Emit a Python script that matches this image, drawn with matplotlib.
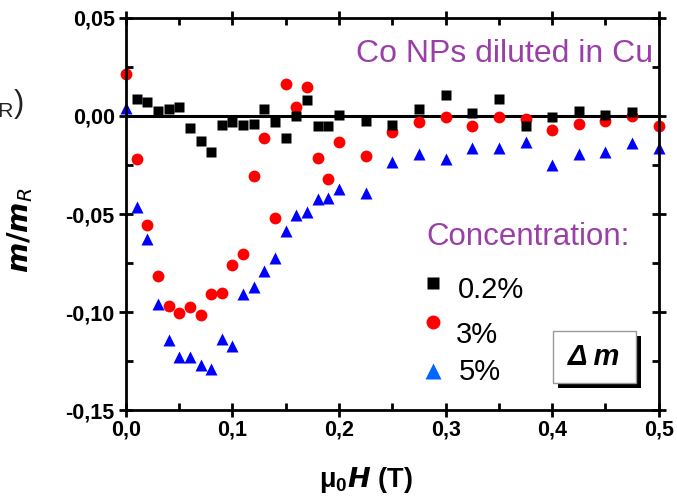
import matplotlib
matplotlib.use("Agg")
import matplotlib.pyplot as plt
from matplotlib.patches import Rectangle
from matplotlib.ticker import MultipleLocator, FuncFormatter

## field values (T) and normalised moment differences for each concentration
field = [0.0, 0.01, 0.02, 0.03, 0.04, 0.05, 0.06, 0.07, 0.08, 0.09, 0.10,
         0.11, 0.12, 0.13, 0.14, 0.15, 0.16, 0.17, 0.18, 0.19, 0.20,
         0.225, 0.25, 0.275, 0.30, 0.325, 0.35, 0.375, 0.40, 0.425, 0.45, 0.475, 0.50]

field_02 = [0.01, 0.02, 0.03, 0.04, 0.05, 0.06, 0.07, 0.08, 0.09, 0.10,
            0.11, 0.12, 0.13, 0.14, 0.15, 0.16, 0.17, 0.18, 0.19, 0.20,
            0.225, 0.25, 0.275, 0.30, 0.325, 0.35, 0.375, 0.40, 0.425, 0.45, 0.475]
m_02 = [0.0085, 0.0071, 0.0026, 0.0036, 0.0048, -0.0063, -0.0129, -0.0185, -0.0046, -0.0032,
        -0.0047, -0.0039, 0.0036, -0.0030, -0.0110, 0.0002, 0.0082, -0.0049, -0.0049, 0.0004,
        -0.0027, -0.0046, 0.0037, 0.0107, 0.0014, 0.0085, -0.0049, -0.0003, 0.0027, 0.0005, 0.0022]

m_3 = [0.0213, -0.0221, -0.0556, -0.0816, -0.0969, -0.1007, -0.0974, -0.1015, -0.0909, -0.0903, -0.0760,
       -0.0705, -0.0306, -0.0110, -0.0522, 0.0165, 0.0045, 0.0150, -0.0216, -0.0322, -0.0131,
       -0.0204, -0.0080, -0.0032, -0.0007, -0.0049, -0.0007, -0.0015, -0.0071, -0.0042, -0.0025, 0.0002, -0.0049]

m_5 = [0.0039, -0.0463, -0.0627, -0.0961, -0.1144, -0.1229, -0.1229, -0.1270, -0.1289, -0.1139, -0.1172,
       -0.0906, -0.0874, -0.0791, -0.0723, -0.0588, -0.0505, -0.0488, -0.0424, -0.0420, -0.0374,
       -0.0394, -0.0236, -0.0194, -0.0219, -0.0162, -0.0165, -0.0134, -0.0250, -0.0194, -0.0182, -0.0136, -0.0162]

labels = ["0.2%", "3%", "5%"]

purple = "#9b3fa8"
plt.rcParams['font.family'] = ['Liberation Sans', 'DejaVu Sans']

fig = plt.figure(figsize=(6.77, 4.96), dpi=100)
ax = fig.add_axes([0.186, 0.173, 0.787, 0.791])

ax.axhline(0, color='k', lw=2.2, zorder=1)
ax.plot(field_02, m_02, 's', color='k', ms=7, mec='none', zorder=3, clip_on=False)
ax.plot(field, m_3, 'o', color='#ff0000', ms=8.5, mec='none', zorder=2, clip_on=False)
ax.plot(field, m_5, '^', color='#0000ff', ms=8.5, mec='none', zorder=2, clip_on=False)

ax.set_xlim(0, 0.5)
ax.set_ylim(-0.15, 0.05)
ax.xaxis.set_major_locator(MultipleLocator(0.1))
ax.xaxis.set_minor_locator(MultipleLocator(0.05))
ax.yaxis.set_major_locator(MultipleLocator(0.05))
ax.yaxis.set_minor_locator(MultipleLocator(0.025))
ax.xaxis.set_major_formatter(FuncFormatter(lambda v, p: ("%.1f" % v).replace('.', ',')))
ax.yaxis.set_major_formatter(FuncFormatter(lambda v, p: ("%.2f" % (v + 0.0)).replace('.', ',').replace('-0,00', '0,00')))
ax.tick_params(which='both', top=True, right=True, width=2)
ax.tick_params(which='major', direction='inout', length=10, labelsize=15.5)
ax.tick_params(which='minor', direction='in', length=5)
ax.tick_params(axis='x', pad=2)
ax.tick_params(axis='y', pad=3)
for lab in ax.get_xticklabels() + ax.get_yticklabels():
    lab.set_fontweight('bold')
for s in ax.spines.values():
    s.set_linewidth(2)

ax.set_xlabel(r"$\mathregular{\mu_0}$$\boldsymbol{H}$ (T)", fontsize=19.5, fontweight='bold')
ax.xaxis.set_label_coords(0.45, -0.14)
ax.set_ylabel(r"$\boldsymbol{m/m}_{R}$", fontsize=21)
ax.yaxis.set_label_coords(-0.17, 0.46)

## texts inside the plot
ax.text(0.99, 0.945, "Co NPs diluted in Cu", transform=ax.transAxes, ha='right', va='top',
        color=purple, fontsize=23)
ax.text(0.563, 0.441, "Concentration:", transform=ax.transAxes, ha='left', va='center',
        color=purple, fontsize=22.5)

## hand-made legend
leg_marks = [('s', 'k', 9, 0.324), ('o', '#ff0000', 10, 0.224), ('^', '#0066ff', 11, 0.0995)]
leg_text_x = [0.623, 0.619, 0.625]
leg_text_y = [0.306, 0.191, 0.097]
for (mk, col, ms, yy), lab, tx, ty in zip(leg_marks, labels, leg_text_x, leg_text_y):
    ax.plot([0.576], [yy], mk, transform=ax.transAxes, color=col, ms=ms, mec='none', clip_on=False)
    ax.text(tx, ty, lab, transform=ax.transAxes, ha='left', va='center', fontsize=21)

## delta m box with drop shadow
bx, by, bw, bh = 0.801, 0.069, 0.156, 0.1325
ax.add_patch(Rectangle((bx + 0.0095, by - 0.0128), bw, bh, transform=ax.transAxes,
                       fc='k', ec='none', zorder=5, clip_on=False))
ax.add_patch(Rectangle((bx, by), bw, bh, transform=ax.transAxes,
                       fc='white', ec='#999999', lw=1, zorder=6, clip_on=False))
ax.text(bx + bw / 2, by + bh / 2, "\u0394 m", transform=ax.transAxes,
        ha='center', va='center', fontsize=21, fontstyle='italic', fontweight='bold', zorder=7)

## clipped fragment at left edge
fig.text(-0.004, 0.79, r"$_\mathregular{R}$)", fontsize=22, ha='left', va='center', color='#222222')

fig.savefig("out.png", dpi=100)
